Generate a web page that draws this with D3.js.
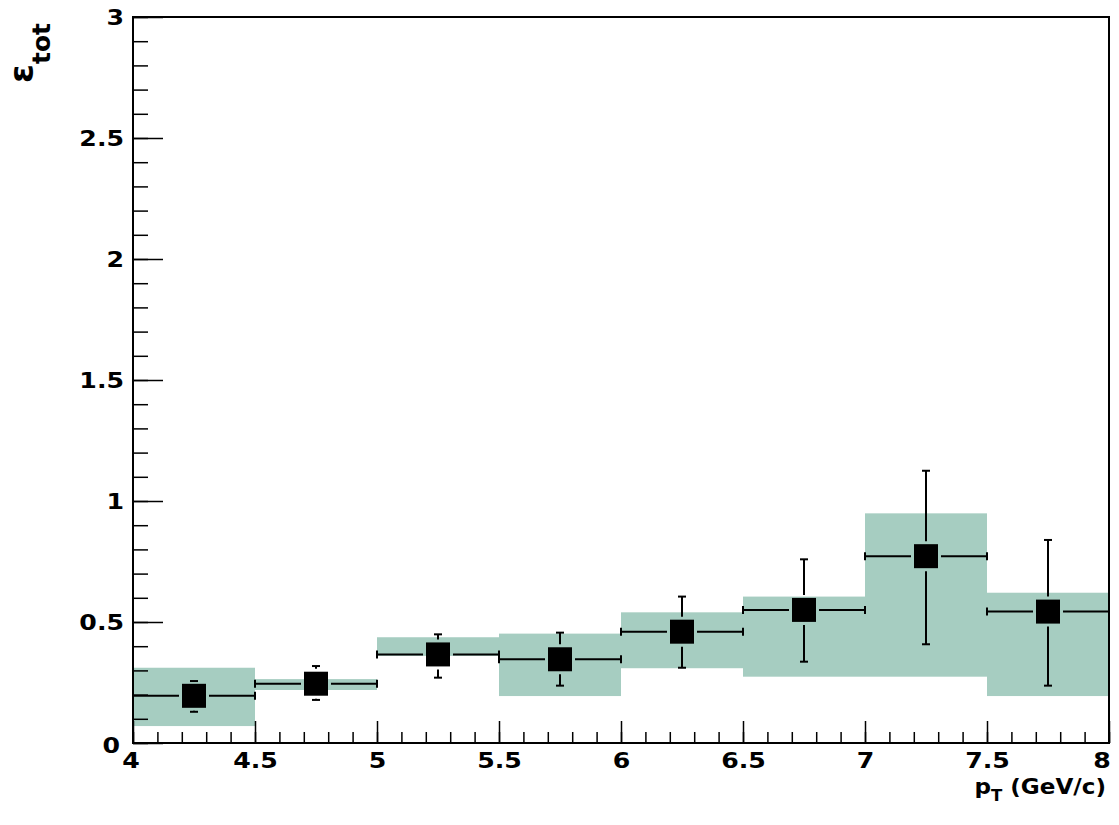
<!DOCTYPE html>
<html><head><meta charset="utf-8">
<script src="https://cdn.jsdelivr.net/npm/d3@7"></script>
<style>body{margin:0;background:#fff}svg{display:block}text{font-family:"DejaVu Sans",sans-serif;font-weight:bold}</style>
</head><body>
<svg id="c" width="1119" height="825"></svg>
<script>
const binLow  = [4.0, 4.5, 5.0, 5.5, 6.0, 6.5, 7.0, 7.5];
const binHigh = [4.5, 5.0, 5.5, 6.0, 6.5, 7.0, 7.5, 8.0];
const values  = [0.195, 0.245, 0.366, 0.346, 0.460, 0.550, 0.772, 0.543];
const errLow  = [0.129, 0.178, 0.270, 0.237, 0.311, 0.336, 0.408, 0.237];
const errHigh = [0.256, 0.318, 0.449, 0.456, 0.605, 0.759, 1.125, 0.839];
const sysLow  = [0.070, 0.219, 0.360, 0.194, 0.309, 0.274, 0.274, 0.194];
const sysHigh = [0.311, 0.264, 0.437, 0.452, 0.540, 0.605, 0.949, 0.621];
const xTicks = [4, 4.5, 5, 5.5, 6, 6.5, 7, 7.5, 8];
const yTicks = [0, 0.5, 1, 1.5, 2, 2.5, 3];

const svg = d3.select("#c");
const L = 133, R = 1109, T = 17, B = 743;
const SX = 1.2, FS = 21;
const x = d3.scaleLinear().domain([4, 8]).range([L, R]);
const y = d3.scaleLinear().domain([0, 3]).range([B, T]);

const data = binLow.map((lo, i) => ({lo, hi: binHigh[i], v: values[i], el: errLow[i], eh: errHigh[i], sl: sysLow[i], sh: sysHigh[i]}));

// systematic boxes
svg.append("g").selectAll("rect").data(data).join("rect")
  .attr("x", d => x(d.lo)).attr("width", d => x(d.hi) - x(d.lo))
  .attr("y", d => y(d.sh)).attr("height", d => y(d.sl) - y(d.sh))
  .attr("fill", "#a6cdc1");

const fmt = d => d3.format("")(d);
const xMinor = d3.range(4, 8.0001, 0.1).map(v => +v.toFixed(2));
const yMinor = d3.range(0, 3.0001, 0.1).map(v => +v.toFixed(2));

const gx = svg.append("g").attr("transform", `translate(0,${B})`);
gx.call(d3.axisBottom(x).tickValues(xMinor).tickSize(-11).tickFormat(""));
gx.select(".domain").remove();
gx.selectAll("line").attr("stroke", "#000").attr("stroke-width", 1.5);
const gx2 = svg.append("g").attr("transform", `translate(0,${B})`);
gx2.call(d3.axisBottom(x).tickValues(xTicks).tickSize(-22).tickPadding(0).tickFormat(fmt));
gx2.select(".domain").remove();
gx2.selectAll("line").attr("stroke", "#000").attr("stroke-width", 1.5);
gx2.selectAll("text").attr("y", 25).attr("dy", 0).attr("font-size", FS).attr("fill", "#000")
  .attr("transform", `scale(${SX},1)`).style("font-family", "DejaVu Sans").style("font-weight", "bold");
gx2.selectAll(".tick").filter(d => d === 4).select("text").attr("x", -2);
gx2.selectAll(".tick").filter(d => d === 8).select("text").attr("text-anchor", "end").attr("x", 1);

const gy = svg.append("g").attr("transform", `translate(${L},0)`);
gy.call(d3.axisLeft(y).tickValues(yMinor).tickSize(-15).tickFormat(""));
gy.select(".domain").remove();
gy.selectAll("line").attr("stroke", "#000").attr("stroke-width", 1.5);
const gy2 = svg.append("g").attr("transform", `translate(${L},0)`);
gy2.call(d3.axisLeft(y).tickValues(yTicks).tickSize(-30).tickPadding(9).tickFormat(fmt));
gy2.select(".domain").remove();
gy2.selectAll("line").attr("stroke", "#000").attr("stroke-width", 1.5);
gy2.selectAll("text").attr("font-size", FS).attr("fill", "#000").attr("dy", "0.36em").attr("x", -9 / SX)
  .attr("transform", `scale(${SX},1)`).style("font-family", "DejaVu Sans").style("font-weight", "bold");
gy2.selectAll(".tick").filter(d => d === 0).select("text").attr("x", -13 / SX).attr("dy", "0.45em");

// frame
svg.append("rect").attr("x", L).attr("y", T).attr("width", R - L).attr("height", B - T)
  .attr("fill", "none").attr("stroke", "#000").attr("stroke-width", 2);

// error bars
const eg = svg.append("g").attr("stroke", "#000").attr("stroke-width", 2);
const ms = 24;
data.forEach(d => {
  const cx = x((d.lo + d.hi) / 2), cy = y(d.v);
  const g = eg.append("g");
  g.append("line").attr("x1", x(d.lo)).attr("x2", cx - ms/2 - 3).attr("y1", cy).attr("y2", cy);
  g.append("line").attr("x1", cx + ms/2 + 3).attr("x2", x(d.hi)).attr("y1", cy).attr("y2", cy);
  g.append("line").attr("x1", x(d.lo)).attr("x2", x(d.lo)).attr("y1", cy - 4).attr("y2", cy + 4);
  g.append("line").attr("x1", x(d.hi)).attr("x2", x(d.hi)).attr("y1", cy - 4).attr("y2", cy + 4);
  if (y(d.eh) < cy - ms/2 - 3) g.append("line").attr("x1", cx).attr("x2", cx).attr("y1", y(d.eh)).attr("y2", cy - ms/2 - 3);
  if (y(d.el) > cy + ms/2 + 3) g.append("line").attr("x1", cx).attr("x2", cx).attr("y1", cy + ms/2 + 3).attr("y2", y(d.el));
  g.append("line").attr("x1", cx - 4).attr("x2", cx + 4).attr("y1", y(d.eh)).attr("y2", y(d.eh));
  g.append("line").attr("x1", cx - 4).attr("x2", cx + 4).attr("y1", y(d.el)).attr("y2", y(d.el));
});

// markers
svg.append("g").selectAll("rect").data(data).join("rect")
  .attr("x", d => x((d.lo + d.hi) / 2) - ms/2).attr("y", d => y(d.v) - ms/2)
  .attr("width", ms).attr("height", ms).attr("fill", "#000");

// axis titles
const xt = svg.append("text").attr("transform", `translate(1106,794) scale(1.1,1)`).attr("text-anchor", "end").attr("font-size", FS).attr("fill", "#000");
xt.append("tspan").text("p");
xt.append("tspan").attr("dy", 7).attr("font-size", 15).text("T");
xt.append("tspan").attr("dy", -7).text(" (GeV/c)");

const yt = svg.append("text").attr("transform", "translate(33,83) rotate(-90)").attr("font-size", 34).attr("fill", "#000");
yt.append("tspan").text("ε");
yt.append("tspan").attr("dy", 17).attr("font-size", 25).text("tot");
</script>
</body></html>
